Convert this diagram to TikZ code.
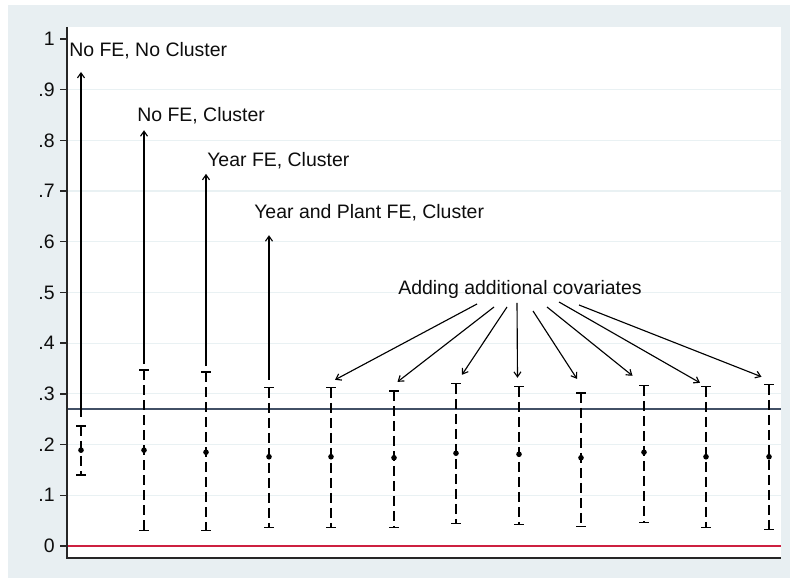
\documentclass[tikz,border=0pt]{standalone}
\usepackage{fontspec}
\setmainfont{Liberation Sans}
\usepackage[x11names]{xcolor}
\usetikzlibrary{calc, positioning, arrows.meta}
\definecolor{regionbg}{RGB}{232,239,242}
\definecolor{gridcol}{RGB}{233,241,243}
\definecolor{refline}{RGB}{66,80,102}
\definecolor{zeroline}{RGB}{205,32,64}
\tikzset{
  lab/.style={font=\fontsize{14.6}{17}\selectfont, inner sep=0pt, text=black!95},
  axisline/.style={line width=1.05pt, black!85},
  ci/.style={line width=1pt, dash pattern=on 7.5pt off 3.75pt},
  capline/.style={line width=1pt},
  fearrow/.style={line width=0.85pt, -{Straight Barb[length=3.75pt,width=5.25pt]}},
}

\begin{document}
\begin{tikzpicture}[x=0.75pt,y=0.75pt]
       \useasboundingbox (0,0) rectangle (790,578);
       \fill[regionbg] (8,0) rectangle (790,573);
       \fill[white] (67,20) rectangle (781,551);
       % data: y in units of the axis
       \begin{scope}[shift={(0,32)},y=380.25pt]
         \foreach \v in {.1,.2,.3,.4,.5,.6,.7,.8,.9}
           \draw[gridcol, line width=0.9pt] (67,\v) -- (781,\v);
         \foreach \v/\t in {0/0,.1/.1,.2/.2,.3/.3,.4/.4,.5/.5,.6/.6,.7/.7,.8/.8,.9/.9,1/1} {
           \draw[axisline] (60,\v) -- (67,\v);
           \node[lab, anchor=east] at (55,\v) {\t};
         }
         \draw[zeroline, line width=1pt] (67,0) -- (781,0);
         \draw[refline, line width=1.1pt] (67,.27) -- (781,.27);
         \foreach \i/\lo/\est/\hi in {1/.140/.189/.237, 2/.030/.189/.347, 3/.030/.185/.343, 4/.037/.176/.312,
                                      5/.037/.176/.312, 6/.037/.174/.306, 7/.045/.183/.320, 8/.043/.181/.314,
                                      9/.039/.174/.302, 10/.047/.185/.316, 11/.036/.176/.314, 12/.032/.176/.318} {
           \pgfmathsetmacro\xb{round(81+62.5*(\i-1))}
           \coordinate (hi\i) at (\xb,\hi);
           \coordinate (lo\i) at (\xb,\lo);
           \draw[ci] (hi\i) -- (lo\i);
           \draw[capline] ([xshift=-3.75pt]hi\i) -- ([xshift=3.75pt]hi\i);
           \draw[capline] ([xshift=-3.75pt]lo\i) -- ([xshift=3.75pt]lo\i);
           \fill (\xb,\est) circle[radius=2.1pt];
         }
         \foreach \i/\s/\t in {1/6.75pt/.935, 2/4.5pt/.820, 3/4.5pt/.734, 4/6pt/.613}
           \draw[fearrow] ([yshift=\s]hi\i) -- (hi\i |- 0,\t);
       \end{scope}
       \draw[axisline] (67,551) -- (67,20) -- (781,20);
       \node[lab, anchor=base west] (nofe) at (69,521) {No FE, No Cluster};
       \node[lab, anchor=base west] (nofecl) at (137,456) {No FE, Cluster};
       \node[lab, anchor=base west] (yearfe) at (207,411) {Year FE, Cluster};
       \node[lab, anchor=base west] (plantfe) at (254,359) {Year and Plant FE, Cluster};
       \node[lab, anchor=base west] (cov) at (398,283) {Adding additional covariates};
       \foreach \i/\dx/\dy/\ex/\ey in {5/-43/-9/4/8, 6/-26/-12/3.5/9, 7/-13/-12/6/9, 8/-3/-8/-1.5/9,
                                       9/13/-16/-4/14, 10/27/-12/-11.5/10, 11/39/-7/-6/4, 12/59/-10/-7.5/8}
         \draw[fearrow] ($(cov.base)+(\dx,\dy)$) -- ($(hi\i)+(\ex,\ey)$);
     \end{tikzpicture}
\end{document}
